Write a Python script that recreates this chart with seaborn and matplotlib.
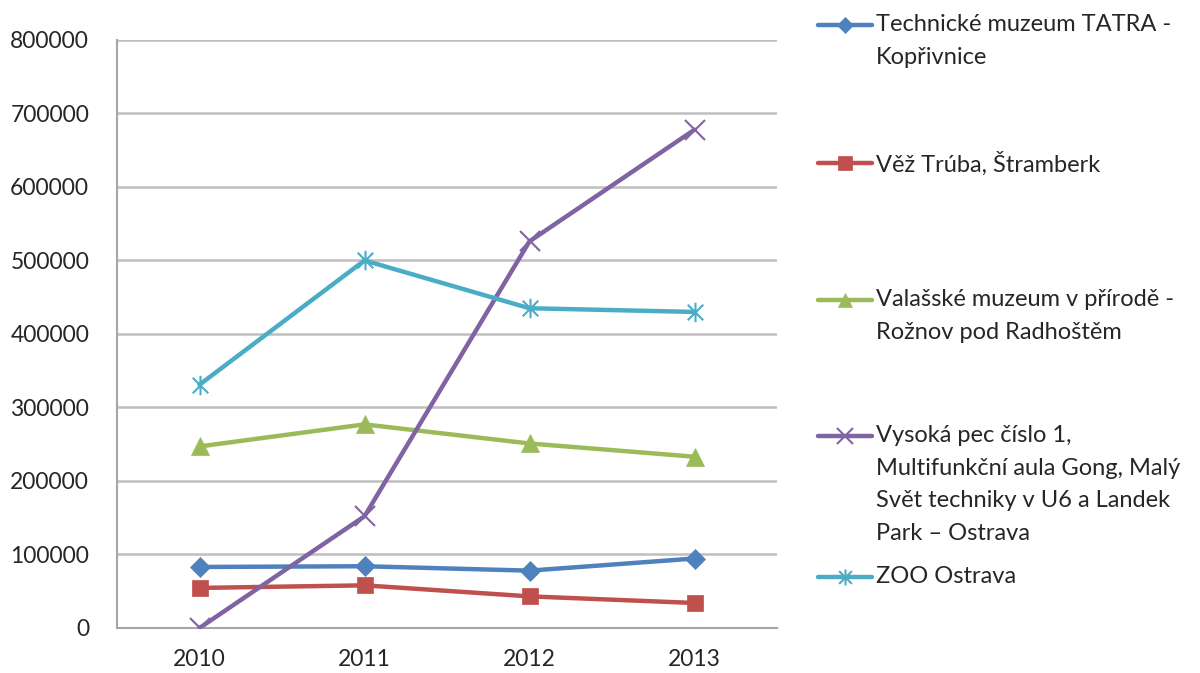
import matplotlib
matplotlib.use("Agg")
import matplotlib.pyplot as plt
from matplotlib.path import Path
from matplotlib.lines import Line2D
import numpy as np
import pandas as pd
import seaborn as sns

years = ["2010", "2011", "2012", "2013"]
series_names = [
    "Technické muzeum TATRA -\nKopřivnice",
    "Věž Trúba, Štramberk",
    "Valašské muzeum v přírodě -\nRožnov pod Radhoštěm",
    "Vysoká pec číslo 1,\nMultifunkční aula Gong, Malý\nSvět techniky v U6 a Landek\nPark – Ostrava",
    "ZOO Ostrava",
]
tatra = [83000, 84000, 78000, 94500]
truba = [54500, 58000, 43000, 34000]
valassko = [247000, 277000, 251000, 233000]
vysoka_pec = [0, 152000, 526000, 678000]
zoo = [331000, 500000, 435000, 430000]

values = [tatra, truba, valassko, vysoka_pec, zoo]
colors = ["#4F81BD", "#C0504D", "#9BBB59", "#8064A2", "#4BACC6"]

# Excel-style "star" marker: an x with a vertical stroke through it
star_path = Path(
    [(-1, -1), (1, 1), (-1, 1), (1, -1), (0, -1.25), (0, 1.25)],
    [Path.MOVETO, Path.LINETO, Path.MOVETO, Path.LINETO, Path.MOVETO, Path.LINETO],
)
markers = ["D", "s", "^", "x", star_path]
msizes = [10, 12, 12.5, 14, 14]


def edge_width(mk):
    return 1.5 if (mk == "x" or isinstance(mk, Path)) else 0.5


sns.set_style("white")
plt.rcParams["font.family"] = ["Lato", "DejaVu Sans"]

fig = plt.figure(figsize=(12, 6.73), dpi=100)
ax = fig.add_axes([0.0975, 0.0669, 0.55, 0.8737])

frames = []
for name, vals in zip(series_names, values):
    frames.append(pd.DataFrame({"year": np.arange(len(years)), "visitors": vals, "series": name}))
df = pd.concat(frames, ignore_index=True)

for name, col, mk, ms in zip(series_names, colors, markers, msizes):
    sub = df[df["series"] == name]
    sns.lineplot(
        data=sub, x="year", y="visitors", ax=ax, color=col, linewidth=3.2,
        marker=mk, markersize=ms, markeredgecolor=col, markerfacecolor=col,
        markeredgewidth=edge_width(mk), legend=False, zorder=3,
    )

ax.set_xlim(-0.5, len(years) - 0.5)
ax.set_ylim(0, 800000)
ax.set_yticks(np.arange(0, 800001, 100000))
ax.set_yticklabels([str(v) for v in range(0, 800001, 100000)])
ax.set_xticks(np.arange(len(years)))
ax.set_xticklabels(years)
ax.set_xticks(np.arange(-0.5, len(years)), minor=True)
ax.tick_params(axis="x", which="major", length=0, pad=15, labelsize=16.5, labelcolor="#262626")
ax.tick_params(axis="x", which="minor", length=7, width=1.2, color="#A6A6A6", direction="out")
ax.tick_params(axis="y", length=6, width=1.2, color="#A6A6A6", direction="out", pad=14,
               labelsize=16.5, labelcolor="#262626")
ax.set_xlabel("")
ax.set_ylabel("")

ax.yaxis.grid(True, color="#BFBFBF", linewidth=1.8)
ax.set_axisbelow(True)
for side in ("top", "right"):
    ax.spines[side].set_visible(False)
for side in ("left", "bottom"):
    ax.spines[side].set_color("#A6A6A6")
    ax.spines[side].set_linewidth(1.5)

# legend at the right: key line aligned with the first text line of each entry
W, H = 1200.0, 673.0
legend_rows = [25, 163, 300, 436, 577]
key_x0, key_x1, text_x = 818, 872, 876
for name, col, mk, ms, row in zip(series_names, colors, markers, msizes, legend_rows):
    yf = 1 - row / H
    fig.add_artist(Line2D([key_x0 / W, key_x1 / W], [yf, yf], transform=fig.transFigure,
                          color=col, linewidth=3.2))
    fig.add_artist(Line2D([(key_x0 + key_x1) / 2 / W], [yf], transform=fig.transFigure,
                          marker=mk, markersize=ms * 0.82, color=col,
                          markeredgecolor=col, markerfacecolor=col,
                          markeredgewidth=edge_width(mk), linestyle="none"))
    fig.text(text_x / W, yf + 11 / H, name, ha="left", va="top", fontsize=17,
             color="#262626", linespacing=1.68)

fig.savefig("out.png", dpi=100)
